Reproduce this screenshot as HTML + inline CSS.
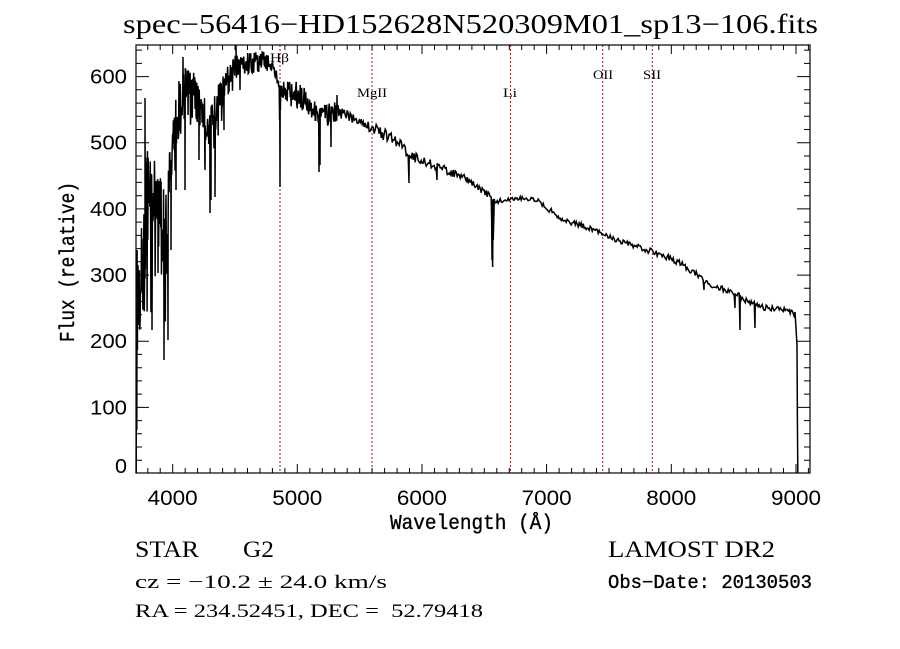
<!DOCTYPE html>
<html>
<head>
<meta charset="utf-8">
<style>
html,body{margin:0;padding:0;background:#fff;}
svg{display:block;}
.tl{font-family:"Liberation Sans",sans-serif;font-size:20px;fill:#000;}
.ser{font-family:"Liberation Serif",serif;fill:#000;}
.mono{font-family:"Liberation Mono",monospace;fill:#000;stroke:#000;stroke-width:0.35;}
.lab{font-family:"Liberation Serif",serif;font-size:13px;fill:#000;}
</style>
</head>
<body>
<svg id="s" width="900" height="649" viewBox="0 0 900 649" xmlns="http://www.w3.org/2000/svg">
<rect x="0" y="0" width="900" height="649" fill="#fff"/>
<!-- title -->
<text class="ser" x="123" y="33" font-size="27" textLength="695" lengthAdjust="spacingAndGlyphs">spec−56416−HD152628N520309M01_sp13−106.fits</text>

<!-- dotted lines -->
<g stroke="#8b1a1a" stroke-width="1" stroke-dasharray="2,2" fill="none">
<line x1="280" y1="45" x2="280" y2="473"/>
<line x1="372" y1="45" x2="372" y2="473"/>
<line x1="510.5" y1="45" x2="510.5" y2="473"/>
<line x1="602.7" y1="45" x2="602.7" y2="473"/>
<line x1="652.3" y1="45" x2="652.3" y2="473"/>
</g>
<text class="lab" x="270" y="62" textLength="19" lengthAdjust="spacingAndGlyphs">Hβ</text>
<text class="lab" x="357" y="97" textLength="30" lengthAdjust="spacingAndGlyphs">MgII</text>
<text class="lab" x="503" y="97" textLength="14" lengthAdjust="spacingAndGlyphs">Li</text>
<text class="lab" x="593" y="79" textLength="20" lengthAdjust="spacingAndGlyphs">OII</text>
<text class="lab" x="643" y="79" textLength="18" lengthAdjust="spacingAndGlyphs">SII</text>

<!-- spectrum -->
<polyline id="spec" fill="none" stroke="#000" stroke-width="1.5" stroke-linejoin="miter" points=""/>

<!-- frame -->
<rect x="136" y="45" width="674" height="428" fill="none" stroke="#000" stroke-width="1.2"/>
<path id="ticks" stroke="#000" stroke-width="1" fill="none" d=""/>

<!-- y labels -->
<text class="tl" x="127" y="83.6" text-anchor="end" textLength="37" lengthAdjust="spacingAndGlyphs">600</text>
<text class="tl" x="127" y="149.7" text-anchor="end" textLength="37" lengthAdjust="spacingAndGlyphs">500</text>
<text class="tl" x="127" y="215.9" text-anchor="end" textLength="37" lengthAdjust="spacingAndGlyphs">400</text>
<text class="tl" x="127" y="282" text-anchor="end" textLength="37" lengthAdjust="spacingAndGlyphs">300</text>
<text class="tl" x="127" y="348.2" text-anchor="end" textLength="37" lengthAdjust="spacingAndGlyphs">200</text>
<text class="tl" x="127" y="414.3" text-anchor="end" textLength="37" lengthAdjust="spacingAndGlyphs">100</text>
<text class="tl" x="127" y="473" text-anchor="end" textLength="12" lengthAdjust="spacingAndGlyphs">0</text>

<!-- x labels -->
<g class="tl">
<text x="172.7" y="505" text-anchor="middle" font-size="21" textLength="50" lengthAdjust="spacingAndGlyphs">4000</text>
<text x="297.3" y="505" text-anchor="middle" font-size="21" textLength="50" lengthAdjust="spacingAndGlyphs">5000</text>
<text x="421.9" y="505" text-anchor="middle" font-size="21" textLength="50" lengthAdjust="spacingAndGlyphs">6000</text>
<text x="546.6" y="505" text-anchor="middle" font-size="21" textLength="50" lengthAdjust="spacingAndGlyphs">7000</text>
<text x="671.3" y="505" text-anchor="middle" font-size="21" textLength="50" lengthAdjust="spacingAndGlyphs">8000</text>
<text x="796" y="505" text-anchor="middle" font-size="21" textLength="50" lengthAdjust="spacingAndGlyphs">9000</text>
</g>

<!-- axis titles -->
<text class="mono" x="390" y="529" font-size="21" textLength="163" lengthAdjust="spacingAndGlyphs">Wavelength (Å)</text>
<text class="mono" transform="translate(74,342) rotate(-90)" x="0" y="0" font-size="21" textLength="160" lengthAdjust="spacingAndGlyphs">Flux (relative)</text>

<!-- bottom info -->
<text class="ser" x="135" y="557" font-size="23" textLength="64" lengthAdjust="spacingAndGlyphs">STAR</text>
<text class="ser" x="243" y="557" font-size="23" textLength="31" lengthAdjust="spacingAndGlyphs">G2</text>
<text class="ser" x="135" y="588" font-size="19" textLength="252" lengthAdjust="spacingAndGlyphs">cz = −10.2 ± 24.0 km/s</text>
<text class="ser" x="135" y="617" font-size="19" textLength="348" lengthAdjust="spacingAndGlyphs" xml:space="preserve">RA = 234.52451, DEC =  52.79418</text>
<text class="ser" x="608" y="557" font-size="23" textLength="167" lengthAdjust="spacingAndGlyphs">LAMOST DR2</text>
<text class="mono" x="608" y="588" font-size="19" textLength="204" lengthAdjust="spacingAndGlyphs">Obs−Date: 20130503</text>
</svg>
<script>
(function(){
  var d="";
  function xp(l){return 172.7+(l-4000)*0.12465;}
  function yp(v){return 473.5-v*0.6615;}
  for(var l=3800;l<=9100;l+=100){
    var x=xp(l).toFixed(1); var maj=(l%1000===0);
    var len=maj?9:5;
    d+="M"+x+" 473V"+(473-len)+"M"+x+" 45V"+(45+len);
  }
  for(var v=20;v<=640;v+=20){
    var y=yp(v).toFixed(1); var maj=(v%100===0);
    var len=maj?13:6;
    d+="M136 "+y+"H"+(136+len)+"M810 "+y+"H"+(810-len);
  }
  document.getElementById("ticks").setAttribute("d",d);

  function rnd(i){var s=Math.sin(i*12.9898+78.233)*43758.5453;return s-Math.floor(s);}
  var E=[[138,300,55],[141,290,55],[144,250,70],[147,190,60],[150,200,50],[155,190,35],[160,195,30],[163,260,70],[167,250,70],[170,160,25],[173,140,18],[177,115,30],[182,100,30],[188,92,25],[195,95,25],[200,108,20],[206,122,22],[212,128,25],[218,96,20],[225,88,15],[230,76,15],[236,66,12],[245,63,12],[255,62,12],[265,60,10],[272,66,8],[278,80,5],[283,92,12],[290,92,15],[300,96,14],[310,104,12],[318,115,10],[325,115,12],[335,112,10],[345,115,7],[360,120,5],[372,128,6],[385,135,6],[400,143,6],[410,155,5],[425,162,5],[437,166,4],[450,172,4],[465,178,3],[480,189,3],[490,196,3],[496,202,3],[505,200,2],[520,198,2],[537,200,2],[550,210,3],[563,220,2],[580,225,3],[600,232,2],[620,242,3],[650,251,3],[670,258,3],[683,265,3],[700,277,3],[710,285,3],[733,292,3],[745,300,3],[760,307,3],[780,310,3],[793,312,3]];
  function env(x){
    for(var i=0;i<E.length-1;i++){
      if(x>=E[i][0]&&x<=E[i+1][0]){
        var t=(x-E[i][0])/(E[i+1][0]-E[i][0]);
        return [E[i][1]+t*(E[i+1][1]-E[i][1]),E[i][2]+t*(E[i+1][2]-E[i][2])];
      }
    }
    return [E[E.length-1][1],E[E.length-1][2]];
  }
  var P=[[136.2,473],[136.5,280],[136.8,430],[137.1,250],[137.4,350],[137.7,270]];
  var x=138,k=0;
  while(x<793){
    var e=env(x);var r=rnd(k++);
    var y=e[0]+e[1]*(2*r-1);
    if(x<240 && rnd(k+5000)<0.07) y+=e[1]*1.5;
    P.push([x,y]);
    x+= (x<240)?0.35:(x<340?0.5:1.0);
  }
  var D=[[145,98],[146,240],[152,330],[158,273],[164,360],[165,300],[168,340],[171,250],[176,190],[183,57],[185,190],[199,160],[205,170],[210,213],[211,200],[215,197],[224,130],[236,45],[240,90],
         [279.6,120],[280,187],[280.4,110],
         [319,172],[320,165],[331,147],[337,95],[409,183],[437,180],
         [491.6,215],[492,260],[492.6,267],[493.2,240],[494,212],
         [704,290],[735,308],[740,330],[755,328],
         [794,316],[795,312],[796,328],[797,345],[797.4,420],[797.8,473]];
  D.forEach(function(p){P.push(p);});
  P.sort(function(a,b){return a[0]-b[0];});
  var s=P.map(function(p){return p[0].toFixed(2)+","+Math.max(45,Math.min(473,p[1])).toFixed(1);}).join(" ");
  document.getElementById("spec").setAttribute("points",s);
})();
</script>
</body>
</html>
